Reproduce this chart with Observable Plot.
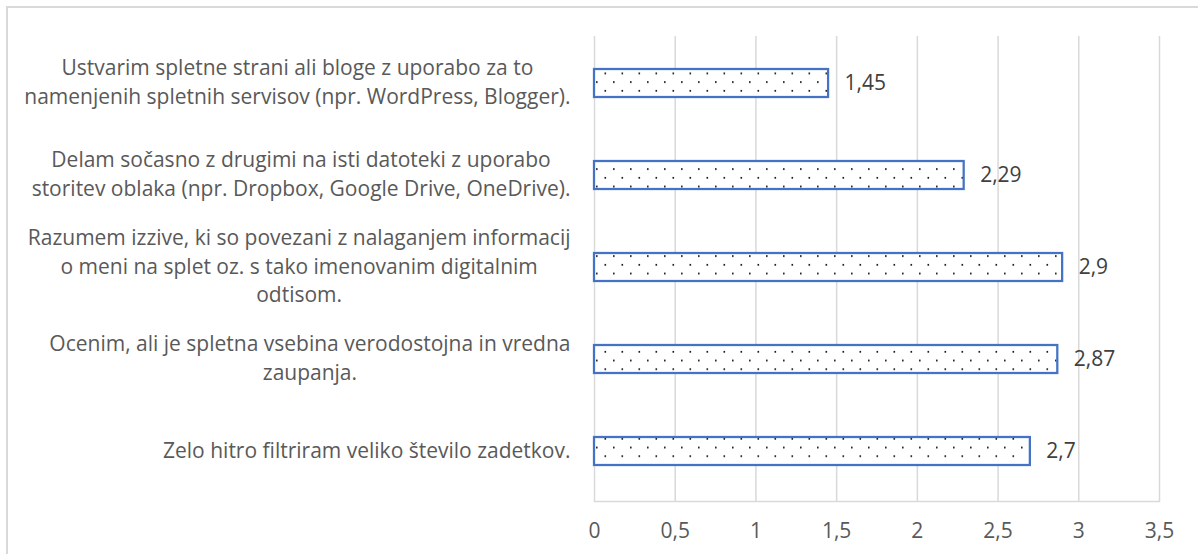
<!DOCTYPE html>
<html>
<head>
<meta charset="utf-8">
<script src="https://cdn.jsdelivr.net/npm/d3@7"></script>
<script src="https://cdn.jsdelivr.net/npm/@observablehq/plot@0.6"></script>
<style>
  html, body { margin: 0; padding: 0; background: #fff; overflow: hidden; }
  #frame { position: absolute; left: 6px; top: 6px; width: 1400px; height: 800px;
           border: 2px solid #d9d9d9; box-sizing: border-box; }
  #chart { position: absolute; left: 0; top: 0; }
</style>
</head>
<body>
<div id="frame"></div>
<div id="chart"></div>
<script>
const categories = [
  "Ustvarim spletne strani ali bloge z uporabo za to\nnamenjenih spletnih servisov (npr. WordPress, Blogger).",
  "Delam sočasno z drugimi na isti datoteki z uporabo\nstoritev oblaka (npr. Dropbox, Google Drive, OneDrive).",
  "Razumem izzive, ki so povezani z nalaganjem informacij\no meni na splet oz. s tako imenovanim digitalnim\nodtisom.",
  "Ocenim, ali je spletna vsebina verodostojna in vredna\nzaupanja.",
  "Zelo hitro filtriram veliko število zadetkov."
];
const values = [1.45, 2.29, 2.9, 2.87, 2.7];
const xTicks = [0, 0.5, 1, 1.5, 2, 2.5, 3, 3.5];

const data = categories.map((c, i) => ({category: c, value: values[i]}));
const fmt = d => String(d).replace(".", ",");

const FONT = "Open Sans";
const canvas = document.createElement("canvas");
const ctx = canvas.getContext("2d");
ctx.font = `18px "${FONT}"`;
// font size chosen so the shortest label is about as wide as in the reference (408px)
const FS = Math.round(18 * 408 / ctx.measureText(categories[4]).width * 10) / 10;
ctx.font = `${FS}px "${FONT}"`;
const blockWidth = c => Math.max(...c.split("\n").map(l => ctx.measureText(l).width));
const GAP = 24;

const labelMarks = categories.map(c =>
  Plot.text([c], {
    y: d => d,
    text: d => d,
    frameAnchor: "left",
    textAnchor: "middle",
    lineAnchor: "middle",
    lineHeight: 1.37,
    dx: -(GAP + blockWidth(c) / 2),
    dy: -3,
    fill: "#595959",
    fontSize: FS
  })
);

const chart = Plot.plot({
  width: 1198,
  height: 554,
  marginLeft: 594,
  marginRight: 39,
  marginTop: 36,
  marginBottom: 53,
  style: {fontFamily: `"${FONT}"`, background: "transparent", overflow: "visible"},
  x: {domain: [0, 3.5], ticks: xTicks, label: null},
  y: {domain: categories, paddingInner: 0.7, paddingOuter: 0.37, align: 0.47, axis: null},
  marks: [
    Plot.gridX(xTicks, {stroke: "#d9d9d9", strokeOpacity: 1, strokeWidth: 1.5}),
    Plot.frame({anchor: "bottom", stroke: "#d9d9d9", strokeWidth: 1.5}),
    Plot.axisX(xTicks, {tickSize: 0, tickPadding: 22, tickFormat: fmt, fill: "#595959", fontSize: FS, label: null}),
    Plot.barX(data, {x: "value", y: "category", fill: "url(#dots)", stroke: "#4472C4", strokeWidth: 2.25}),
    Plot.text(data, {x: "value", y: "category", text: d => fmt(d.value), textAnchor: "start", dx: 16, fill: "#404040", fontSize: FS}),
    ...labelMarks
  ]
});

const svg = d3.select(chart);
const defs = svg.insert("defs", ":first-child");
const pat = defs.append("pattern")
  .attr("id", "dots").attr("patternUnits", "userSpaceOnUse")
  .attr("width", 17).attr("height", 17.4);
pat.append("rect").attr("width", 17).attr("height", 17.4).attr("fill", "#fff");
pat.append("rect").attr("x", 9.5).attr("y", 3).attr("width", 1.6).attr("height", 1.6).attr("fill", "#000");
pat.append("rect").attr("x", 1).attr("y", 11.7).attr("width", 1.6).attr("height", 1.6).attr("fill", "#000");

document.getElementById("chart").appendChild(chart);
</script>
</body>
</html>
